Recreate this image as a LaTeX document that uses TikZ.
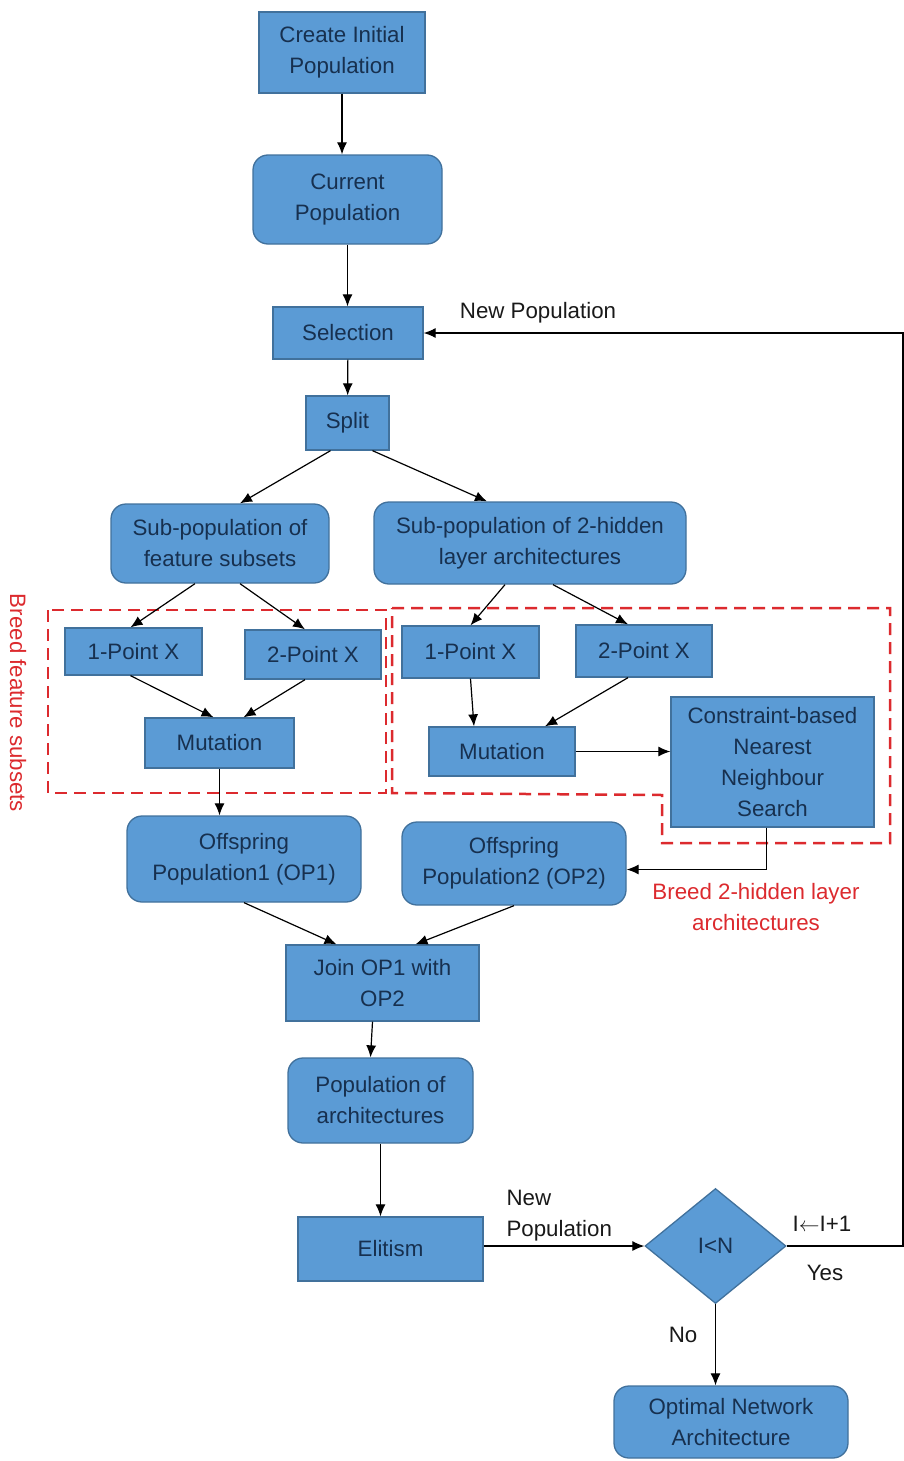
\documentclass[tikz,border=0pt]{standalone}
\usepackage{fontspec}
\setmainfont{Liberation Sans}
\usepackage{color}
\usetikzlibrary{arrows.meta,shapes.geometric}

\definecolor{boxfill}{HTML}{5B9BD5}
\definecolor{boxline}{HTML}{41719C}
\definecolor{boxtext}{HTML}{17304F}
\definecolor{breedred}{HTML}{DC2A2E}

\begin{document}
\begin{tikzpicture}[x=1pt, y=-1pt,
        every node/.style={font=\fontsize{22.3}{31}\selectfont},
        block/.style={draw=boxline, fill=boxfill, line width=1.3pt, text=boxtext, align=center, inner sep=0pt},
        rblock/.style={block, rounded corners=15pt},
        arr/.style={-{Latex[length=12pt,width=10pt]}, line width=1.2pt},
        breed/.style={breedred, dash pattern=on 12pt off 7pt, line width=2.5pt},
        lbl/.style={text=black!90}]
        \useasboundingbox (0,0) rectangle (904,1461);
        % main column
        \node[block, minimum width=166pt, minimum height=81pt] (init) at (342,52.5) {Create Initial\\Population};
        \node[rblock, minimum width=189pt, minimum height=89pt] (cur) at (347.5,199.5) {Current\\Population};
        \node[block, minimum width=150pt, minimum height=52pt] (sel) at (348,333) {Selection};
        \node[block, minimum width=83pt, minimum height=54pt] (split) at (347.5,423) {Split};
        \node[rblock, minimum width=218pt, minimum height=79pt] (fsub) at (220,543.5) {Sub-population of\\feature subsets};
        \node[rblock, minimum width=312pt, minimum height=82pt] (hsub) at (530,543) {Sub-population of 2-hidden\\layer architectures};
        % breeding of feature subsets
        \node[block, minimum width=137pt, minimum height=47pt] (lone) at (133.5,651.5) {1-Point X};
        \node[block, minimum width=136pt, minimum height=49pt] (ltwo) at (313,654.5) {2-Point X};
        \node[block, minimum width=149pt, minimum height=50pt] (lmut) at (219.5,743) {Mutation};
        % breeding of architectures
        \node[block, minimum width=137pt, minimum height=52pt] (rone) at (470.5,652) {1-Point X};
        \node[block, minimum width=136pt, minimum height=52pt] (rtwo) at (644,651) {2-Point X};
        \node[block, minimum width=146pt, minimum height=49pt] (rmut) at (502,751.5) {Mutation};
        \node[block, minimum width=203pt, minimum height=130pt] (cnns) at (772.5,762) {Constraint-based\\Nearest\\Neighbour\\Search};
        % offspring and the rest
        \node[rblock, minimum width=234pt, minimum height=86pt] (op1) at (244,859) {Offspring\\Population1 (OP1)};
        \node[rblock, minimum width=224pt, minimum height=83pt] (op2) at (514,863.5) {Offspring\\Population2 (OP2)};
        \node[block, minimum width=193pt, minimum height=76pt] (join) at (382.5,983) {Join OP1 with\\OP2};
        \node[rblock, minimum width=185pt, minimum height=85pt] (parch) at (380.5,1100.5) {Population of\\architectures};
        \node[block, minimum width=185pt, minimum height=64pt] (elit) at (390.5,1249) {Elitism};
        \node[block, diamond, minimum width=141pt, minimum height=115pt] (dec) at (715.5,1246) {I<N};
        \node[rblock, minimum width=234pt, minimum height=72pt] (opt) at (731,1422) {Optimal Network\\Architecture};

        % dashed regions
        \draw[breed] (48,610) rectangle (386,793);
        \draw[breed] (392,608) -- (890,608) -- (890,843) -- (662,843) -- (662,795) -- (392,793) -- cycle;
        \node[breedred, rotate=-90] (lbreed) at (18,703) {Breed feature subsets};
        \node[breedred, align=center] (rbreed) at (756,907) {Breed 2-hidden layer\\architectures};

        % connectors
        \draw[arr] (init) -- (init |- cur.north);
        \draw[arr] (cur) -- (cur |- sel.north);
        \draw[arr] (sel) -- (split);
        \draw[arr] ([xshift=-17pt]split.south) -- ([xshift=20pt]fsub.north);
        \draw[arr] ([xshift=25pt]split.south) -- ([xshift=-43pt]hsub.north);
        \draw[arr] ([xshift=-25pt]fsub.south) -- ([xshift=-3pt]lone.north);
        \draw[arr] ([xshift=20pt]fsub.south) -- ([xshift=-8pt]ltwo.north);
        \draw[arr] ([xshift=-3pt]lone.south) -- ([xshift=-6pt]lmut.north);
        \draw[arr] ([xshift=-8pt]ltwo.south) -- ([xshift=24pt]lmut.north);
        \draw[arr] ([xshift=-25pt]hsub.south) -- (rone.north);
        \draw[arr] ([xshift=23pt]hsub.south) -- ([xshift=-16pt]rtwo.north);
        \draw[arr] (rone.south) -- ([xshift=-28pt]rmut.north);
        \draw[arr] ([xshift=-16pt]rtwo.south) -- ([xshift=43pt]rmut.north);
        \draw[arr] (rmut) -- (rmut -| cnns.west);
        \draw[arr] ([xshift=-6pt]cnns.south) |- ([yshift=-6pt]op2.east);
        \draw[arr] (lmut) -- (lmut |- op1.north);
        \draw[arr] (op1.south) -- ([xshift=-46pt]join.north);
        \draw[arr] (op2.south) -- ([xshift=33pt]join.north);
        \draw[arr] ([xshift=-10pt]join.south) -- ([xshift=-10pt]parch.north);
        \draw[arr] (parch) -- (parch |- elit.north);
        \draw[arr] (elit.east |- dec.west) -- (dec.west);
        \draw[arr] (dec) -- (dec |- opt.north);
        \coordinate (loop) at (903,1246);
        \draw[arr] (dec.east) -- (loop) |- (sel.east);

        % labels
        \node[lbl] (lnewtop) at (538,313) {New Population};
        \node[lbl, align=left, anchor=west] (lnew) at (503,1216) {New\\Population};
        \node[lbl] (linc) at (822,1224) {I$\leftarrow$I+1};
        \node[lbl] (lyes) at (825,1273) {Yes};
        \node[lbl] (lno) at (683,1335) {No};
\end{tikzpicture}
\end{document}
